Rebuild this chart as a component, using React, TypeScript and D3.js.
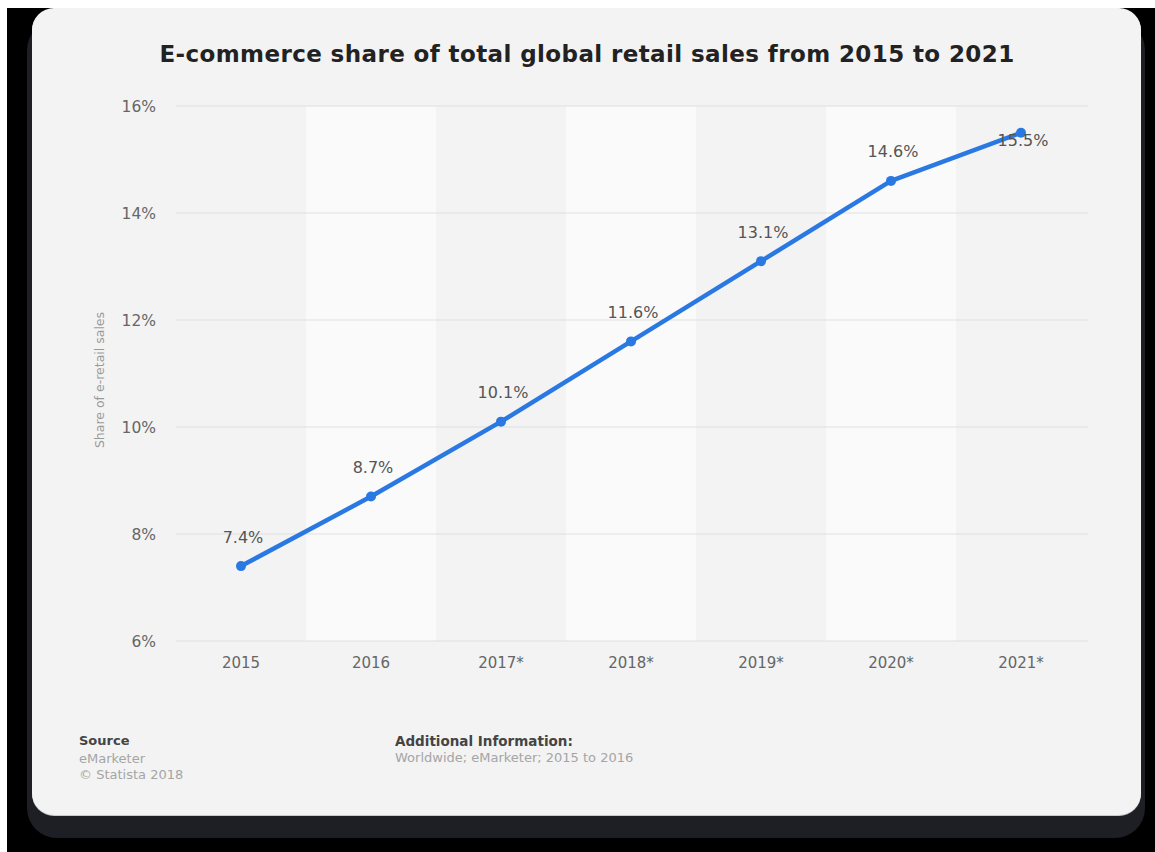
import React from "react";
import * as d3 from "d3";

const years = ["2015", "2016", "2017*", "2018*", "2019*", "2020*", "2021*"];
const shares = [7.4, 8.7, 10.1, 11.6, 13.1, 14.6, 15.5];
const yTicks = [6, 8, 10, 12, 14, 16];

const title = "E-commerce share of total global retail sales from 2015 to 2021";
const yAxisTitle = "Share of e-retail sales";
const sourceLines = ["eMarketer", "\u00a9 Statista 2018"];
const infoLines = ["Worldwide; eMarketer; 2015 to 2016"];

const W = 1155;
const H = 852;
const FONT = "'DejaVu Sans', Verdana, sans-serif";
const BLUE = "#2a79e3";

export default function App() {
  const x = d3.scaleBand<string>().domain(years).range([176, 1086]).padding(0);
  const y = d3.scaleLinear().domain([6, 16]).range([641, 106]);
  const cx = (c: string) => (x(c) ?? 0) + x.bandwidth() / 2;

  const pts: [number, number][] = years.map((c, i) => [cx(c), y(shares[i])]);
  const line = d3.line<[number, number]>().x((d) => d[0]).y((d) => d[1])(pts) ?? "";

  // card outline with rounded corners
  const card = { x: 32, y: 8, w: 1109, h: 807, r: 22 };

  return (
    <svg
      width={W}
      height={H}
      viewBox={`0 0 ${W} ${H}`}
      style={{ position: "absolute", left: 0, top: 0, display: "block" }}
    >
      <rect x={0} y={0} width={W} height={H} fill="#ffffff" />
      <rect x={7} y={8} width={W - 7} height={H - 8} fill="#000000" />
      {/* drop shadow under the card */}
      <rect x={27} y={20} width={1118} height={818} rx={30} fill="#1e1f24" />
      <rect x={card.x} y={card.y + 1} width={card.w} height={card.h} rx={card.r} fill="#c9c9c9" />
      <rect x={card.x} y={card.y} width={card.w} height={card.h} rx={card.r} fill="#f3f3f3" />

      <text
        x={587}
        y={62}
        textAnchor="middle"
        fontFamily={FONT}
        fontWeight="bold"
        fontSize={23}
        letterSpacing={0.4}
        fill="#222222"
      >
        {title}
      </text>

      {/* alternating column bands */}
      {years.map((c, i) => (
        <rect
          key={c}
          x={x(c)}
          y={y(16)}
          width={x.bandwidth()}
          height={y(6) - y(16)}
          fill={i % 2 === 1 ? "#fafafa" : "#f3f3f3"}
        />
      ))}

      {/* horizontal grid */}
      {yTicks.map((t) => (
        <line
          key={t}
          x1={176}
          x2={1088}
          y1={y(t)}
          y2={y(t)}
          stroke="#dfdfdf"
          strokeWidth={1.2}
        />
      ))}

      {/* y tick labels */}
      {yTicks.map((t) => (
        <text
          key={t}
          x={156}
          y={y(t) + 5.5}
          textAnchor="end"
          fontFamily={FONT}
          fontSize={15.5}
          fill="#666666"
        >
          {`${t}%`}
        </text>
      ))}

      {/* x tick labels */}
      {years.map((c) => (
        <text
          key={c}
          x={cx(c)}
          y={668}
          textAnchor="middle"
          fontFamily={FONT}
          fontSize={15}
          fill="#666666"
        >
          {c}
        </text>
      ))}

      <text
        transform={`translate(104, 380) rotate(-90)`}
        textAnchor="middle"
        fontFamily={FONT}
        fontSize={12.5}
        fill="#9a9a9a"
      >
        {yAxisTitle}
      </text>

      <path d={line} fill="none" stroke={BLUE} strokeWidth={4.5} strokeLinejoin="round" />
      {pts.map((p, i) => (
        <circle key={i} cx={p[0]} cy={p[1]} r={5} fill={BLUE} />
      ))}

      {/* value labels */}
      {pts.map((p, i) => {
        const last = i === pts.length - 1;
        return (
          <text
            key={i}
            x={p[0] + 2}
            y={last ? p[1] + 13 : p[1] - 23.5}
            textAnchor="middle"
            fontFamily={FONT}
            fontSize={16}
            fill="#555555"
          >
            {`${shares[i]}%`}
          </text>
        );
      })}

      {/* footer */}
      <text x={79} y={745} fontFamily={FONT} fontSize={13} fontWeight="bold" fill="#444444">
        Source
      </text>
      {sourceLines.map((s, i) => (
        <text key={s} x={79} y={763 + i * 16} fontFamily={FONT} fontSize={13} fill="#a5a5a5">
          {s}
        </text>
      ))}
      <text x={395} y={746} fontFamily={FONT} fontSize={13.5} fontWeight="bold" fill="#444444">
        Additional Information:
      </text>
      {infoLines.map((s, i) => (
        <text key={s} x={395} y={762 + i * 16} fontFamily={FONT} fontSize={13} fill="#a5a5a5">
          {s}
        </text>
      ))}
    </svg>
  );
}
